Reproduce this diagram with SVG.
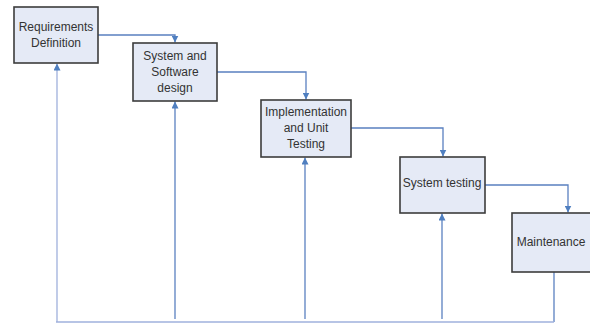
<svg xmlns="http://www.w3.org/2000/svg" width="590" height="324" viewBox="0 0 590 324">
<defs>
<marker id="ah" viewBox="0 0 10 10" refX="10" refY="5" markerWidth="7" markerHeight="7" markerUnits="userSpaceOnUse" orient="auto">
<path d="M0,0 L10,5 L0,10 z" fill="#4f7fc0"/>
</marker>
</defs>
<style>
.box{fill:#e5eaf6;stroke:#3c3c3c;stroke-width:1.6}
.lbl{font-family:"Liberation Sans",Arial,sans-serif;font-size:12px;fill:#333;text-anchor:middle}
.c{fill:none;stroke:#5a80c0;stroke-width:1.3}
.cl{fill:none;stroke:#9fb0dc;stroke-width:1.3}
</style>
<rect width="590" height="324" fill="#ffffff"/>
<g id="connectors">
<path class="c" d="M98,35 H175 V42.5" marker-end="url(#ah)"/>
<path class="c" d="M217,72 H306 V99.5" marker-end="url(#ah)"/>
<path class="c" d="M351,128 H443 V156.5" marker-end="url(#ah)"/>
<path class="c" d="M485,185 H568 V212.5" marker-end="url(#ah)"/>
<path class="cl" d="M57,322 V63.5" marker-end="url(#ah)"/>
<path class="c" d="M175,319 V101.5" marker-end="url(#ah)"/>
<path class="c" d="M305,319 V157.5" marker-end="url(#ah)"/>
<path class="c" d="M442,319 V213.5" marker-end="url(#ah)"/>
<path class="c" d="M554,272 V322"/>
<path class="cl" d="M56,322 H554"/>
</g>
<g id="n1">
<rect class="box" x="14" y="7" width="84" height="56"/>
<text class="lbl" x="56" y="31">Requirements</text>
<text class="lbl" x="56" y="47">Definition</text>
</g>
<g id="n2">
<rect class="box" x="133" y="43" width="84" height="58"/>
<text class="lbl" x="175" y="60">System and</text>
<text class="lbl" x="175" y="76">Software</text>
<text class="lbl" x="175" y="92">design</text>
</g>
<g id="n3">
<rect class="box" x="261" y="100" width="90" height="57"/>
<text class="lbl" x="306" y="116">Implementation</text>
<text class="lbl" x="306" y="132">and Unit</text>
<text class="lbl" x="306" y="148">Testing</text>
</g>
<g id="n4">
<rect class="box" x="400" y="157" width="85" height="56"/>
<text class="lbl" x="442" y="187">System testing</text>
</g>
<g id="n5">
<rect class="box" x="512" y="213" width="82" height="59"/>
<text class="lbl" x="551" y="246">Maintenance</text>
</g>
</svg>
